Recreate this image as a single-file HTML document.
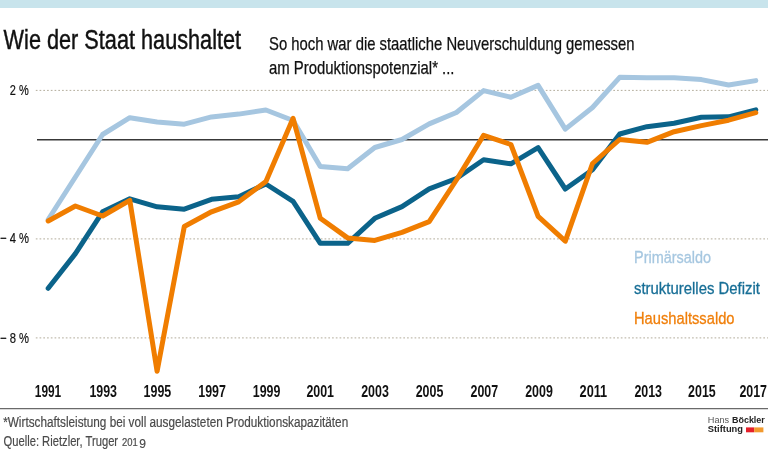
<!DOCTYPE html>
<html><head><meta charset="utf-8">
<style>
html,body{margin:0;padding:0;background:#fff;}
body{width:768px;height:451px;overflow:hidden;}
svg{display:block;font-family:"Liberation Sans",sans-serif;will-change:transform;}
</style></head>
<body>
<svg width="768" height="451" viewBox="0 0 768 451">
<rect x="0" y="0" width="768" height="8" fill="#c8e4ec"/>
<text x="3.6" y="49.4" font-size="26.8" fill="#111" stroke="#111" stroke-width="0.45" textLength="237.5" lengthAdjust="spacingAndGlyphs">Wie der Staat haushaltet</text>
<text x="269" y="50.1" font-size="17.8" fill="#111" stroke="#111" stroke-width="0.25" textLength="365.5" lengthAdjust="spacingAndGlyphs">So hoch war die staatliche Neuverschuldung gemessen</text>
<text x="269" y="74.1" font-size="17.8" fill="#111" stroke="#111" stroke-width="0.25" textLength="185.5" lengthAdjust="spacingAndGlyphs">am Produktionspotenzial* ...</text>
<g stroke="#b3ad9c" stroke-width="1" stroke-dasharray="1.7 2.05">
<line x1="35.8" y1="90.4" x2="768" y2="90.4"/>
<line x1="35.8" y1="238.9" x2="768" y2="238.9"/>
<line x1="35.8" y1="337.9" x2="768" y2="337.9"/>
</g>
<line x1="37" y1="139.8" x2="768" y2="139.8" stroke="#383838" stroke-width="1.4"/>
<g font-size="14.5" fill="#111" stroke="#111" stroke-width="0.2">
<text x="9.8" y="94.8" textLength="19" lengthAdjust="spacingAndGlyphs">2 %</text>
<text x="0" y="243" textLength="29" lengthAdjust="spacingAndGlyphs">− 4 %</text>
<text x="0" y="342.6" textLength="29" lengthAdjust="spacingAndGlyphs">− 8 %</text>
</g>
<g fill="none" stroke-width="5" stroke-linejoin="round" stroke-linecap="round">
<polyline points="48.2,219.5 75.4,177.0 102.6,134.5 129.8,117.7 157.1,122.0 184.3,124.2 211.5,116.9 238.7,114.1 265.9,110.0 293.1,120.5 320.3,166.6 347.6,168.8 374.8,147.5 402.0,139.5 429.2,123.9 456.4,112.5 483.6,90.6 510.9,97.2 538.1,85.4 565.3,129.1 592.5,107.5 619.7,77.3 646.9,77.7 674.1,77.7 701.4,79.6 728.6,85.0 755.8,80.6" stroke="#a6c6e0"/>
<polyline points="48.2,288.3 75.4,253.6 102.6,211.8 129.8,198.8 157.1,206.8 184.3,209.2 211.5,199.3 238.7,196.7 265.9,184.0 293.1,201.4 320.3,243.3 347.6,243.3 374.8,218.3 402.0,206.6 429.2,188.8 456.4,178.5 483.6,159.8 510.9,163.8 538.1,147.7 565.3,189.0 592.5,169.8 619.7,134.0 646.9,126.7 674.1,123.2 701.4,117.3 728.6,116.8 755.8,109.8" stroke="#0b638a"/>
<polyline points="48.2,221.0 75.4,206.0 102.6,216.0 129.8,200.3 157.1,371.3 184.3,226.5 211.5,211.8 238.7,201.8 265.9,181.5 293.1,118.3 320.3,218.3 347.6,237.9 374.8,240.4 402.0,232.3 429.2,221.6 456.4,180.0 483.6,135.3 510.9,144.5 538.1,216.3 565.3,241.2 592.5,163.5 619.7,139.5 646.9,142.3 674.1,131.7 701.4,125.6 728.6,120.2 755.8,112.7" stroke="#f07d00"/>
</g>
<g font-size="16.8" stroke-width="0.3">
<text x="634" y="262.5" fill="#a6c7e0" stroke="#a6c7e0" textLength="77" lengthAdjust="spacingAndGlyphs">Primärsaldo</text>
<text x="634" y="293.8" fill="#176e96" stroke="#176e96" textLength="126" lengthAdjust="spacingAndGlyphs">strukturelles Defizit</text>
<text x="634" y="324.2" fill="#f07f0a" stroke="#f07f0a" textLength="100.5" lengthAdjust="spacingAndGlyphs">Haushaltssaldo</text>
</g>
<g font-size="16" font-weight="bold" fill="#111" text-anchor="middle">
<text x="48.0" y="396.6" textLength="26.4" lengthAdjust="spacingAndGlyphs">1991</text><text x="103.2" y="396.6" textLength="27.6" lengthAdjust="spacingAndGlyphs">1993</text><text x="157.4" y="396.6" textLength="27.6" lengthAdjust="spacingAndGlyphs">1995</text><text x="212.1" y="396.6" textLength="27.6" lengthAdjust="spacingAndGlyphs">1997</text><text x="266.6" y="396.6" textLength="27.6" lengthAdjust="spacingAndGlyphs">1999</text><text x="320.2" y="396.6" textLength="27.6" lengthAdjust="spacingAndGlyphs">2001</text><text x="375.0" y="396.6" textLength="27.6" lengthAdjust="spacingAndGlyphs">2003</text><text x="429.5" y="396.6" textLength="27.6" lengthAdjust="spacingAndGlyphs">2005</text><text x="484.3" y="396.6" textLength="27.6" lengthAdjust="spacingAndGlyphs">2007</text><text x="539.0" y="396.6" textLength="27.6" lengthAdjust="spacingAndGlyphs">2009</text><text x="593.4" y="396.6" textLength="27.6" lengthAdjust="spacingAndGlyphs">2011</text><text x="648.2" y="396.6" textLength="27.6" lengthAdjust="spacingAndGlyphs">2013</text><text x="701.9" y="396.6" textLength="27.6" lengthAdjust="spacingAndGlyphs">2015</text><text x="753.2" y="396.6" textLength="27.6" lengthAdjust="spacingAndGlyphs">2017</text>
</g>
<line x1="0" y1="408.6" x2="768" y2="408.6" stroke="#6a6a6a" stroke-width="1.3"/>
<g font-size="14.7" fill="#4a4a4a" stroke="#4a4a4a" stroke-width="0.2">
<text x="3.2" y="426.8" textLength="345" lengthAdjust="spacingAndGlyphs">*Wirtschaftsleistung bei voll ausgelasteten Produktionskapazitäten</text>
<text x="3.5" y="445.6" textLength="114.6" lengthAdjust="spacingAndGlyphs">Quelle: Rietzler, Truger</text><text x="122" y="445.6" font-size="10.4" textLength="15.8" lengthAdjust="spacingAndGlyphs">201</text><text x="139.3" y="447.6" font-size="13.6" textLength="6.7" lengthAdjust="spacingAndGlyphs">9</text>
</g>
<g font-size="9">
<text x="707.8" y="422.9" fill="#555" textLength="21.4" lengthAdjust="spacingAndGlyphs">Hans</text>
<text x="732" y="422.9" fill="#222" font-weight="bold" textLength="32.8" lengthAdjust="spacingAndGlyphs">Böckler</text>
<text x="707.8" y="432.3" fill="#222" font-weight="bold" textLength="35.2" lengthAdjust="spacingAndGlyphs">Stiftung</text>
</g>
<rect x="746" y="427.4" width="8.2" height="4.9" fill="#e5202a"/>
<rect x="754.2" y="427.4" width="9.2" height="4.9" fill="#f29a2e"/>
</svg>
</body></html>
